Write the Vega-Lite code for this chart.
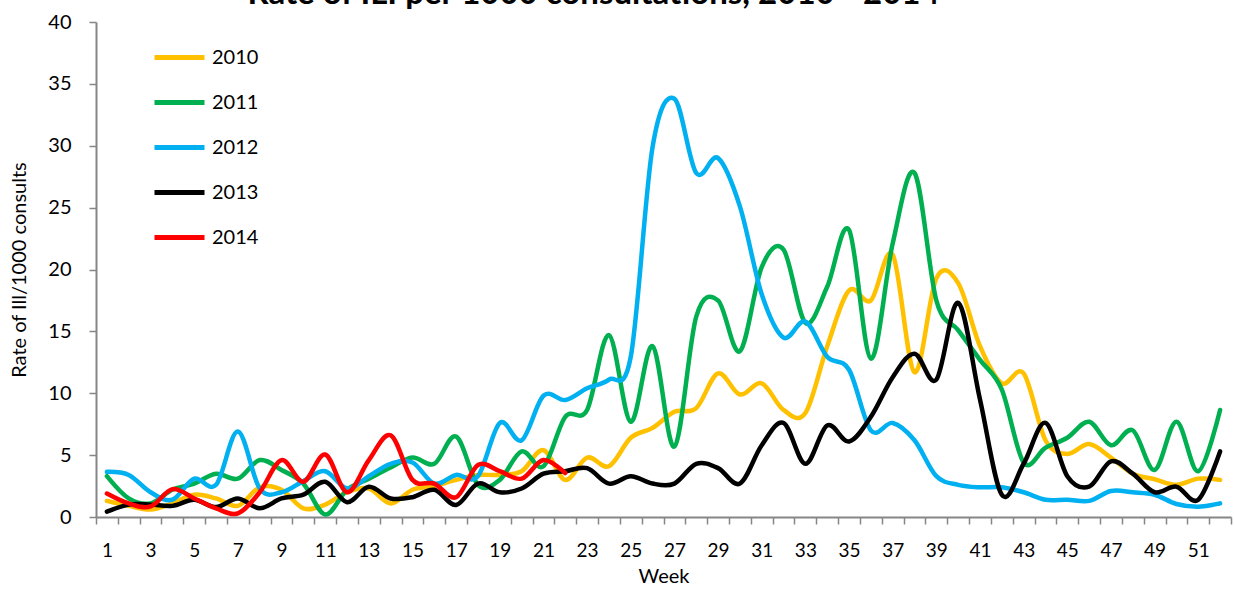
{
  "$schema": "https://vega.github.io/schema/vega-lite/v6.json",
  "width": 1135,
  "height": 495,
  "autosize": {"type": "none"},
  "padding": {"left": 96, "top": 22, "right": 3, "bottom": 75},
  "background": "white",
  "config": {"font": "Lato", "view": {"stroke": null}},
  "title": {"text": "Rate of ILI per 1000 consultations, 2010 - 2014", "fontSize": 33, "fontWeight": "bold", "font": "Lato", "color": "#000000", "anchor": "middle", "dx": -70, "offset": 1},
  "data": {"values": [
    {"week":1,"year":"2010","rate":1.3},{"week":2,"year":"2010","rate":0.9},{"week":3,"year":"2010","rate":0.6},{"week":4,"year":"2010","rate":1.1},{"week":5,"year":"2010","rate":1.8},{"week":6,"year":"2010","rate":1.5},{"week":7,"year":"2010","rate":0.9},{"week":8,"year":"2010","rate":2.4},{"week":9,"year":"2010","rate":2.2},{"week":10,"year":"2010","rate":0.7},{"week":11,"year":"2010","rate":1.0},{"week":12,"year":"2010","rate":2.0},{"week":13,"year":"2010","rate":2.3},{"week":14,"year":"2010","rate":1.1},{"week":15,"year":"2010","rate":2.2},{"week":16,"year":"2010","rate":2.5},{"week":17,"year":"2010","rate":3.0},{"week":18,"year":"2010","rate":3.4},{"week":19,"year":"2010","rate":3.4},{"week":20,"year":"2010","rate":3.7},{"week":21,"year":"2010","rate":5.4},{"week":22,"year":"2010","rate":3.0},{"week":23,"year":"2010","rate":4.8},{"week":24,"year":"2010","rate":4.1},{"week":25,"year":"2010","rate":6.4},{"week":26,"year":"2010","rate":7.2},{"week":27,"year":"2010","rate":8.5},{"week":28,"year":"2010","rate":8.8},{"week":29,"year":"2010","rate":11.6},{"week":30,"year":"2010","rate":9.9},{"week":31,"year":"2010","rate":10.8},{"week":32,"year":"2010","rate":8.65},{"week":33,"year":"2010","rate":8.4},{"week":34,"year":"2010","rate":13.8},{"week":35,"year":"2010","rate":18.3},{"week":36,"year":"2010","rate":17.5},{"week":37,"year":"2010","rate":21.2},{"week":38,"year":"2010","rate":11.7},{"week":39,"year":"2010","rate":19.3},{"week":40,"year":"2010","rate":18.9},{"week":41,"year":"2010","rate":13.8},{"week":42,"year":"2010","rate":10.8},{"week":43,"year":"2010","rate":11.6},{"week":44,"year":"2010","rate":6.2},{"week":45,"year":"2010","rate":5.1},{"week":46,"year":"2010","rate":5.9},{"week":47,"year":"2010","rate":4.8},{"week":48,"year":"2010","rate":3.5},{"week":49,"year":"2010","rate":3.05},{"week":50,"year":"2010","rate":2.6},{"week":51,"year":"2010","rate":3.1},{"week":52,"year":"2010","rate":3.0},
    {"week":1,"year":"2011","rate":3.3},{"week":2,"year":"2011","rate":1.5},{"week":3,"year":"2011","rate":1.1},{"week":4,"year":"2011","rate":2.2},{"week":5,"year":"2011","rate":2.7},{"week":6,"year":"2011","rate":3.5},{"week":7,"year":"2011","rate":3.1},{"week":8,"year":"2011","rate":4.6},{"week":9,"year":"2011","rate":3.8},{"week":10,"year":"2011","rate":2.7},{"week":11,"year":"2011","rate":0.2},{"week":12,"year":"2011","rate":2.2},{"week":13,"year":"2011","rate":3.1},{"week":14,"year":"2011","rate":4.0},{"week":15,"year":"2011","rate":4.8},{"week":16,"year":"2011","rate":4.3},{"week":17,"year":"2011","rate":6.5},{"week":18,"year":"2011","rate":2.6},{"week":19,"year":"2011","rate":3.0},{"week":20,"year":"2011","rate":5.3},{"week":21,"year":"2011","rate":4.1},{"week":22,"year":"2011","rate":8.1},{"week":23,"year":"2011","rate":8.65},{"week":24,"year":"2011","rate":14.7},{"week":25,"year":"2011","rate":7.7},{"week":26,"year":"2011","rate":13.8},{"week":27,"year":"2011","rate":5.7},{"week":28,"year":"2011","rate":16.2},{"week":29,"year":"2011","rate":17.5},{"week":30,"year":"2011","rate":13.4},{"week":31,"year":"2011","rate":20.2},{"week":32,"year":"2011","rate":21.6},{"week":33,"year":"2011","rate":15.7},{"week":34,"year":"2011","rate":18.6},{"week":35,"year":"2011","rate":23.2},{"week":36,"year":"2011","rate":12.8},{"week":37,"year":"2011","rate":22.1},{"week":38,"year":"2011","rate":27.8},{"week":39,"year":"2011","rate":17.5},{"week":40,"year":"2011","rate":15.1},{"week":41,"year":"2011","rate":12.7},{"week":42,"year":"2011","rate":10.3},{"week":43,"year":"2011","rate":4.4},{"week":44,"year":"2011","rate":5.6},{"week":45,"year":"2011","rate":6.4},{"week":46,"year":"2011","rate":7.7},{"week":47,"year":"2011","rate":5.8},{"week":48,"year":"2011","rate":7.0},{"week":49,"year":"2011","rate":3.8},{"week":50,"year":"2011","rate":7.7},{"week":51,"year":"2011","rate":3.7},{"week":52,"year":"2011","rate":8.65},
    {"week":1,"year":"2012","rate":3.65},{"week":2,"year":"2012","rate":3.4},{"week":3,"year":"2012","rate":2.0},{"week":4,"year":"2012","rate":1.4},{"week":5,"year":"2012","rate":3.1},{"week":6,"year":"2012","rate":2.6},{"week":7,"year":"2012","rate":6.9},{"week":8,"year":"2012","rate":2.3},{"week":9,"year":"2012","rate":2.0},{"week":10,"year":"2012","rate":2.9},{"week":11,"year":"2012","rate":3.7},{"week":12,"year":"2012","rate":2.3},{"week":13,"year":"2012","rate":3.3},{"week":14,"year":"2012","rate":4.3},{"week":15,"year":"2012","rate":4.4},{"week":16,"year":"2012","rate":2.7},{"week":17,"year":"2012","rate":3.4},{"week":18,"year":"2012","rate":3.3},{"week":19,"year":"2012","rate":7.6},{"week":20,"year":"2012","rate":6.2},{"week":21,"year":"2012","rate":9.8},{"week":22,"year":"2012","rate":9.45},{"week":23,"year":"2012","rate":10.4},{"week":24,"year":"2012","rate":11.1},{"week":25,"year":"2012","rate":12.95},{"week":26,"year":"2012","rate":29.9},{"week":27,"year":"2012","rate":33.8},{"week":28,"year":"2012","rate":27.8},{"week":29,"year":"2012","rate":29.0},{"week":30,"year":"2012","rate":25.1},{"week":31,"year":"2012","rate":18.0},{"week":32,"year":"2012","rate":14.5},{"week":33,"year":"2012","rate":15.8},{"week":34,"year":"2012","rate":12.95},{"week":35,"year":"2012","rate":11.9},{"week":36,"year":"2012","rate":7.0},{"week":37,"year":"2012","rate":7.6},{"week":38,"year":"2012","rate":6.2},{"week":39,"year":"2012","rate":3.3},{"week":40,"year":"2012","rate":2.6},{"week":41,"year":"2012","rate":2.4},{"week":42,"year":"2012","rate":2.4},{"week":43,"year":"2012","rate":2.0},{"week":44,"year":"2012","rate":1.4},{"week":45,"year":"2012","rate":1.4},{"week":46,"year":"2012","rate":1.3},{"week":47,"year":"2012","rate":2.1},{"week":48,"year":"2012","rate":2.0},{"week":49,"year":"2012","rate":1.8},{"week":50,"year":"2012","rate":1.05},{"week":51,"year":"2012","rate":0.83},{"week":52,"year":"2012","rate":1.1},
    {"week":1,"year":"2013","rate":0.43},{"week":2,"year":"2013","rate":1.0},{"week":3,"year":"2013","rate":1.0},{"week":4,"year":"2013","rate":0.9},{"week":5,"year":"2013","rate":1.4},{"week":6,"year":"2013","rate":0.8},{"week":7,"year":"2013","rate":1.5},{"week":8,"year":"2013","rate":0.7},{"week":9,"year":"2013","rate":1.5},{"week":10,"year":"2013","rate":1.8},{"week":11,"year":"2013","rate":2.85},{"week":12,"year":"2013","rate":1.2},{"week":13,"year":"2013","rate":2.45},{"week":14,"year":"2013","rate":1.5},{"week":15,"year":"2013","rate":1.6},{"week":16,"year":"2013","rate":2.2},{"week":17,"year":"2013","rate":0.97},{"week":18,"year":"2013","rate":2.7},{"week":19,"year":"2013","rate":2.0},{"week":20,"year":"2013","rate":2.3},{"week":21,"year":"2013","rate":3.5},{"week":22,"year":"2013","rate":3.7},{"week":23,"year":"2013","rate":3.95},{"week":24,"year":"2013","rate":2.7},{"week":25,"year":"2013","rate":3.3},{"week":26,"year":"2013","rate":2.7},{"week":27,"year":"2013","rate":2.7},{"week":28,"year":"2013","rate":4.3},{"week":29,"year":"2013","rate":3.95},{"week":30,"year":"2013","rate":2.7},{"week":31,"year":"2013","rate":5.8},{"week":32,"year":"2013","rate":7.6},{"week":33,"year":"2013","rate":4.3},{"week":34,"year":"2013","rate":7.4},{"week":35,"year":"2013","rate":6.1},{"week":36,"year":"2013","rate":8.1},{"week":37,"year":"2013","rate":11.3},{"week":38,"year":"2013","rate":13.2},{"week":39,"year":"2013","rate":11.1},{"week":40,"year":"2013","rate":17.3},{"week":41,"year":"2013","rate":9.5},{"week":42,"year":"2013","rate":1.8},{"week":43,"year":"2013","rate":4.3},{"week":44,"year":"2013","rate":7.6},{"week":45,"year":"2013","rate":3.3},{"week":46,"year":"2013","rate":2.45},{"week":47,"year":"2013","rate":4.5},{"week":48,"year":"2013","rate":3.5},{"week":49,"year":"2013","rate":2.0},{"week":50,"year":"2013","rate":2.45},{"week":51,"year":"2013","rate":1.4},{"week":52,"year":"2013","rate":5.3},
    {"week":1,"year":"2014","rate":1.9},{"week":2,"year":"2014","rate":1.1},{"week":3,"year":"2014","rate":0.85},{"week":4,"year":"2014","rate":2.25},{"week":5,"year":"2014","rate":1.5},{"week":6,"year":"2014","rate":0.7},{"week":7,"year":"2014","rate":0.3},{"week":8,"year":"2014","rate":2.0},{"week":9,"year":"2014","rate":4.6},{"week":10,"year":"2014","rate":2.85},{"week":11,"year":"2014","rate":5.05},{"week":12,"year":"2014","rate":2.0},{"week":13,"year":"2014","rate":4.6},{"week":14,"year":"2014","rate":6.6},{"week":15,"year":"2014","rate":3.0},{"week":16,"year":"2014","rate":2.7},{"week":17,"year":"2014","rate":1.6},{"week":18,"year":"2014","rate":4.2},{"week":19,"year":"2014","rate":3.7},{"week":20,"year":"2014","rate":3.1},{"week":21,"year":"2014","rate":4.6},{"week":22,"year":"2014","rate":3.55}
  ]},
  "mark": {"type": "line", "interpolate": "cardinal", "strokeWidth": 4.5, "strokeCap": "round", "strokeJoin": "round"},
  "encoding": {
    "x": {"field": "week", "type": "quantitative",
      "scale": {"domain": [0.5, 52.5], "nice": false, "zero": false},
      "axis": {"title": "Week", "titleFontSize": 20, "titleFontWeight": "normal", "titleColor": "#000000", "titlePadding": 6,
        "values": [0.5,1,1.5,2.5,3,3.5,4.5,5,5.5,6.5,7,7.5,8.5,9,9.5,10.5,11,11.5,12.5,13,13.5,14.5,15,15.5,16.5,17,17.5,18.5,19,19.5,20.5,21,21.5,22.5,23,23.5,24.5,25,25.5,26.5,27,27.5,28.5,29,29.5,30.5,31,31.5,32.5,33,33.5,34.5,35,35.5,36.5,37,37.5,38.5,39,39.5,40.5,41,41.5,42.5,43,43.5,44.5,45,45.5,46.5,47,47.5,48.5,49,49.5,50.5,51,51.5,52.5],
        "labelExpr": "datum.value % 2 == 1 ? '' + datum.value : ''",
        "labelOverlap": false, "labelFlush": false, "labelFontSize": 19, "labelColor": "#000000", "labelPadding": 17,
        "tickSize": 7, "tickColor": "#868686", "tickWidth": 1.5,
        "tickOpacity": {"condition": {"test": "datum.value % 1 == 0", "value": 0}, "value": 1},
        "domainColor": "#868686", "domainWidth": 2, "grid": false}},
    "y": {"field": "rate", "type": "quantitative",
      "scale": {"domain": [0, 40], "nice": false},
      "axis": {"title": "Rate of Ill/1000 consults", "titleFontSize": 20, "titleFontWeight": "normal", "titleColor": "#000000", "titlePadding": 18,
        "values": [0,5,10,15,20,25,30,35,40], "labelFontSize": 20, "labelColor": "#000000", "labelPadding": 18,
        "tickSize": 7, "tickColor": "#868686", "tickWidth": 1.5,
        "domainColor": "#868686", "domainWidth": 2, "grid": false}},
    "color": {"field": "year", "type": "nominal",
      "scale": {"domain": ["2010","2011","2012","2013","2014"], "range": ["#FFC000","#00B050","#00B0F0","#000000","#FF0000"]},
      "legend": {"title": null, "orient": "none", "legendX": 56, "legendY": 8, "padding": 0,
        "symbolType": "stroke", "symbolSize": 2500, "symbolStrokeWidth": 5,
        "labelFontSize": 20, "labelColor": "#000000", "labelOffset": 5, "rowPadding": 7}}
  }
}
